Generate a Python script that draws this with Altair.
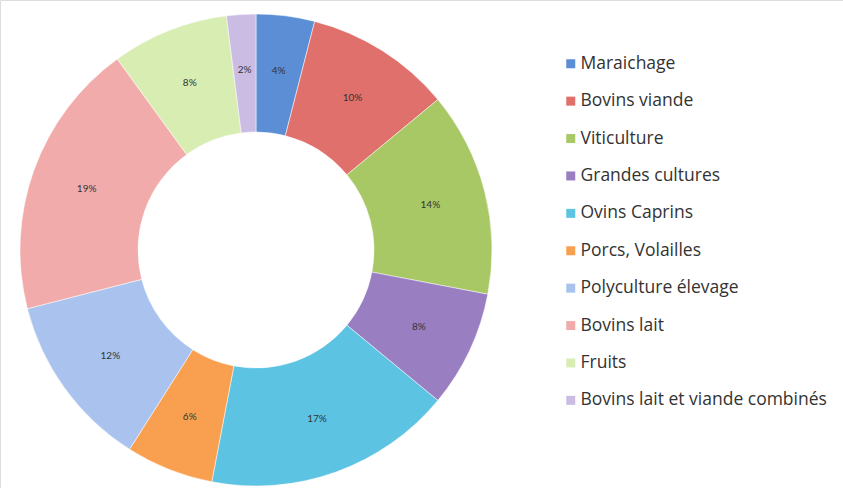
import altair as alt
import pandas as pd

categories = ["Maraichage", "Bovins viande", "Viticulture", "Grandes cultures",
              "Ovins Caprins", "Porcs, Volailles", "Polyculture élevage",
              "Bovins lait", "Fruits", "Bovins lait et viande combinés"]
values = [4, 10, 14, 8, 17, 6, 12, 19, 8, 2]
colors = ["#5B8ED4", "#E0706C", "#A8C866", "#9A7EC2", "#5CC3E2",
          "#F9A050", "#A9C3EE", "#F2ABAB", "#D8EDB2", "#CBBCE4"]

df = pd.DataFrame({"cat": categories, "val": values, "order": list(range(len(values)))})
df["label"] = df["val"].astype(str) + "%"

base = alt.Chart(df).encode(
    theta=alt.Theta("val:Q", stack=True),
    order=alt.Order("order:Q"),
)

arcs = base.mark_arc(radius=236, innerRadius=118, stroke="white", strokeWidth=0.5).encode(
    x=alt.value(256), y=alt.value(250),
    color=alt.Color("cat:N", scale=alt.Scale(domain=categories, range=colors),
                    sort=categories,
                    legend=alt.Legend(title=None, orient="none", legendX=562, legendY=55,
                                      symbolType="square", symbolSize=81,
                                      symbolStrokeWidth=0,
                                      labelFont="Open Sans", labelFontSize=17.5,
                                      labelColor="#333", rowPadding=18.4,
                                      labelOffset=1, labelLimit=320)),
)

texts = base.mark_text(radius=180, fontSize=10, font="Lato", color="#333").encode(
    x=alt.value(256), y=alt.value(250),
    text="label:N",
)

chart = (arcs + texts).properties(
    width=843, height=488, autosize=alt.AutoSizeParams(type="none"), padding=0
).configure_view(stroke=None).configure(background="white")

chart.save("out.html", embed_options={"renderer": "svg", "actions": False})
